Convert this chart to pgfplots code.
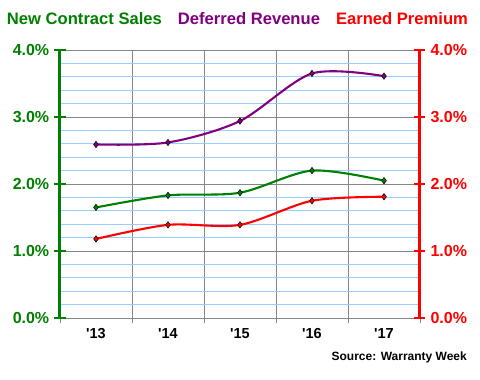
\documentclass[border=0pt]{standalone}
\usepackage{pgfplots}
\pgfplotsset{compat=1.18}
\usepackage{pgfplotstable}
\usepackage{fontspec}
\newfontfamily\af{Liberation Sans}
\definecolor{cgreen}{RGB}{0,128,0}
\definecolor{cpurple}{RGB}{128,0,128}
\definecolor{cred}{RGB}{255,0,0}
\definecolor{cgrid}{RGB}{134,134,134}
\definecolor{cminor}{RGB}{153,204,255}

\pgfplotstableread{
x nc dr ep
1 1.65 2.59 1.18
2 1.83 2.62 1.39
3 1.87 2.94 1.39
4 2.20 3.65 1.75
5 2.05 3.61 1.81
}\datatable

\begin{document}
\begin{tikzpicture}
\useasboundingbox (-60bp,-62bp) rectangle (420bp,318bp);
\pgfplotsset{base/.style={scale only axis, width=360bp, height=268bp, at={(0,0)}, anchor=south west, xmin=0.5, xmax=5.5, ymin=0, ymax=4}}
\begin{axis}[base,
  axis x line*=bottom, axis y line*=left,
  x axis line style={cgrid, -, line width=0.8bp}, y axis line style={draw=none},
  xtick={0.5,1.5,...,5.5}, xticklabels={},
  xtick style={cgrid, line width=0.8bp},
  tick align=outside, major tick length=5bp,
  extra x ticks={1,2,3,4,5},
  extra x tick labels={'13,'14,'15,'16,'17},
  extra x tick style={grid=none, major tick length=0pt,
    tick label style={font=\af\bfseries\fontsize{14.5bp}{16bp}\selectfont, yshift=-7bp}},
  ytick={0,1,2,3,4}, yticklabels={}, ytick style={draw=none},
  minor y tick num=4,
  xmajorgrids, ymajorgrids, yminorgrids,
  major grid style={cgrid, line width=0.8bp},
  minor grid style={cminor, line width=0.8bp},
  legend columns=3,
  legend image code/.code={},
  legend style={draw=none, fill=none, at={(0.493,1.116)}, anchor=center,
    font=\af\bfseries\fontsize{16.6bp}{19bp}\selectfont,
    column sep=0pt, nodes={inner xsep=0pt, inner ysep=1pt},
    /tikz/every even column/.append style={column sep=16bp}},
]
\addplot[cgreen, line width=2.1bp, smooth, mark=diamond*, mark size=3.2bp,
  mark options={fill=cgreen, draw=black, line width=0.5bp, solid}]
  table[x=x, y=nc]{\datatable};
\addlegendentry{\textcolor{cgreen}{New Contract Sales}}
\addplot[cpurple, line width=2.1bp, smooth, mark=diamond*, mark size=3.2bp,
  mark options={fill=cpurple, draw=black, line width=0.5bp, solid}]
  table[x=x, y=dr]{\datatable};
\addlegendentry{\textcolor{cpurple}{Deferred Revenue}}
\addplot[cred, line width=2.1bp, smooth, mark=diamond*, mark size=3.2bp,
  mark options={fill=cred, draw=black, line width=0.5bp, solid}]
  table[x=x, y=ep]{\datatable};
\addlegendentry{\textcolor{cred}{Earned Premium}}
\end{axis}
\begin{axis}[base, clip=false,
  axis line style={draw=none},
  xtick=\empty, ytick pos=left,
  ytick={0,1,2,3,4},
  yticklabels={0.0\%,1.0\%,2.0\%,3.0\%,4.0\%},
  tick style={draw=cgreen, line width=2bp},
  tick align=center, major tick length=12.5bp,
  yticklabel style={text=cgreen, xshift=-1bp, font=\af\bfseries\fontsize{16bp}{18bp}\selectfont},
]
\draw[cgreen, line width=3bp] (rel axis cs:0,0) -- (rel axis cs:0,1);
\end{axis}
\begin{axis}[base, clip=false,
  axis line style={draw=none},
  xtick=\empty, ytick pos=right,
  ytick={0,1,2,3,4},
  yticklabels={0.0\%,1.0\%,2.0\%,3.0\%,4.0\%},
  tick style={draw=cred, line width=2bp},
  tick align=center, major tick length=11bp,
  yticklabel style={text=cred, xshift=1.5bp, font=\af\bfseries\fontsize{16bp}{18bp}\selectfont},
]
\draw[cred, line width=3bp] (rel axis cs:1,0) -- (rel axis cs:1,1);
\end{axis}
\node[anchor=east, inner sep=0pt, font=\af\bfseries\fontsize{12bp}{14bp}\selectfont] at (407bp,-39bp) {Source: Warranty Week};
\end{tikzpicture}
\end{document}
